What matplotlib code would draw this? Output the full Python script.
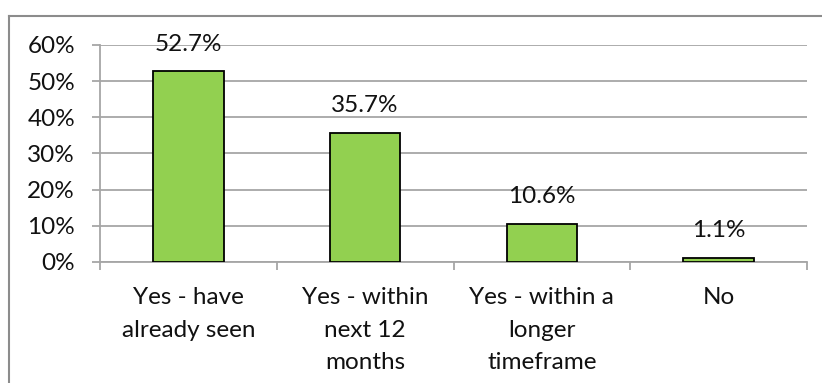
import matplotlib
matplotlib.use("Agg")
import matplotlib.pyplot as plt
from matplotlib.lines import Line2D
import numpy as np

categories = ["Yes - have\nalready seen", "Yes - within\nnext 12\nmonths", "Yes - within a\nlonger\ntimeframe", "No"]
values = [0.527, 0.357, 0.106, 0.011]
labels = ["52.7%", "35.7%", "10.6%", "1.1%"]
yticks = [0, 0.1, 0.2, 0.3, 0.4, 0.5, 0.6]
ytick_labels = ["0%", "10%", "20%", "30%", "40%", "50%", "60%"]

plt.rcParams['font.family'] = ['Lato', 'DejaVu Sans']
FS = 17.5
GRID = "#a6a6a6"
TXT = "#111111"

W, H = 822, 383
fig = plt.figure(figsize=(W / 100, H / 100), dpi=100)
ax = fig.add_axes([100 / W, 1 - 262 / H, (807 - 100) / W, (262 - 45) / H])

x = np.arange(len(categories))
ax.bar(x, values, width=0.40, color="#92D050", edgecolor="black", linewidth=1.3, zorder=3)

for xi, v, lab in zip(x, values, labels):
    ax.annotate(lab, (xi, v), xytext=(0, 12), textcoords="offset points",
                ha="center", va="bottom", fontsize=FS, color=TXT)

ax.set_xlim(-0.5, len(categories) - 0.5)
ax.set_ylim(0, 0.6)
ax.set_yticks(yticks)
ax.set_yticklabels(ytick_labels, fontsize=FS, color=TXT)
ax.set_xticks(x)
ax.set_xticklabels(categories, fontsize=FS, color=TXT, linespacing=1.68)
ax.set_xticks(np.arange(-0.5, len(categories), 1.0), minor=True)
ax.tick_params(axis="x", which="major", length=0, pad=18)
ax.tick_params(axis="x", which="minor", length=6, width=1.3, color=GRID, direction="out")
ax.tick_params(axis="y", length=6, width=1.3, color=GRID, direction="out", pad=12)

ax.grid(axis="y", color=GRID, linewidth=1.3, zorder=0)
ax.set_axisbelow(True)
for s in ["top", "right"]:
    ax.spines[s].set_visible(False)
for s in ["left", "bottom"]:
    ax.spines[s].set_color(GRID)
    ax.spines[s].set_linewidth(1.3)

# outer chart border (top and left visible)
fig.add_artist(Line2D([8.5 / W, 1.0], [1 - 15.5 / H, 1 - 15.5 / H], transform=fig.transFigure,
                      color="#8c8c8c", linewidth=1.5))
fig.add_artist(Line2D([8.5 / W, 8.5 / W], [0, 1 - 15.5 / H], transform=fig.transFigure,
                      color="#8c8c8c", linewidth=1.5))

fig.savefig("out.png", dpi=100, facecolor="white")
